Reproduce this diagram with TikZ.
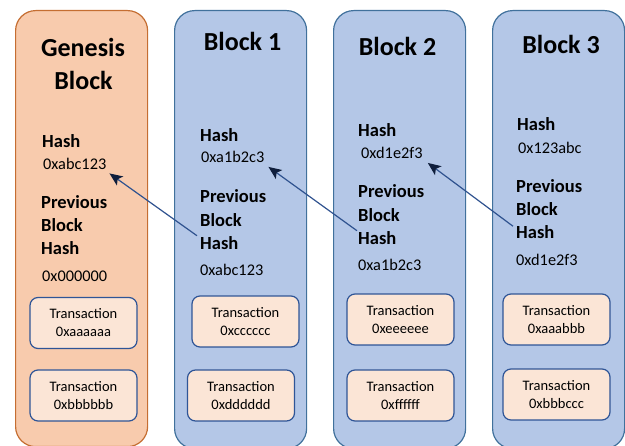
\documentclass[tikz,border=0pt]{standalone}
\usepackage{fontspec}
\setmainfont{Carlito}
\usetikzlibrary{arrows.meta}
\definecolor{orfill}{RGB}{248,203,173}
\definecolor{ordraw}{RGB}{197,110,50}
\definecolor{blfill}{RGB}{180,199,231}
\definecolor{bldraw}{RGB}{65,113,156}
\definecolor{txfill}{RGB}{251,229,214}
\definecolor{txdraw}{RGB}{47,85,151}
\definecolor{arline}{RGB}{47,82,143}
\definecolor{ardark}{RGB}{15,30,60}
\tikzset{
  blockbox/.style={draw=bldraw, fill=blfill, line width=1.2pt, rounded corners=20pt},
  genbox/.style={draw=ordraw, fill=orfill, line width=1.2pt, rounded corners=20pt},
  title/.style={font=\fontsize{26}{30}\selectfont\bfseries, inner sep=0pt},
  lbl/.style={font=\fontsize{18.5}{22}\selectfont\bfseries, anchor=west, inner sep=0pt},
  val/.style={font=\fontsize{16.3}{18}\selectfont, anchor=west, inner sep=0pt},
  txbox/.style={draw=txdraw, fill=txfill, line width=1.2pt, rounded corners=8pt,
    minimum width=107pt, minimum height=51pt, align=center, inner sep=0pt,
    font=\fontsize{14.5}{18}\selectfont},
  link/.style={draw=arline, line width=1.2pt, -{Stealth[length=13pt,width=11pt,inset=3pt,color=ardark]}}
}
\begin{document}
\begin{tikzpicture}[x=1pt,y=-1pt]
\useasboundingbox (0,0) rectangle (625,446);
% block frames
\node[genbox, minimum width=132pt, minimum height=436pt, anchor=north west] (g) at (15,10) {};
\node[blockbox, minimum width=132pt, minimum height=438pt, anchor=north west] (b1) at (174,10) {};
\node[blockbox, minimum width=132pt, minimum height=438pt, anchor=north west] (b2) at (333,10) {};
\node[blockbox, minimum width=132pt, minimum height=438pt, anchor=north west] (b3) at (492,10) {};
% titles
\node[title] (gt1) at (83,47.5) {Genesis};
\node[title] (gt2) at (83.5,80.5) {Block};
\node[title] (b1t) at (242.5,41.5) {Block 1};
\node[title] (b2t) at (397.5,46.5) {Block 2};
\node[title] (b3t) at (561,44) {Block 3};
% genesis contents
\node[lbl] (gh) at (42,141) {Hash};
\node[val] (ghv) at (43,163.5) {0xabc123};
\node[lbl] (gp1) at (41,202) {Previous};
\node[lbl] (gp2) at (41,225) {Block};
\node[lbl] (gp3) at (41,248.5) {Hash};
\node[val] (gpv) at (42,276.5) {0x000000};
% block 1 contents
\node[lbl] (b1h) at (200,135) {Hash};
\node[val] (b1hv) at (201,157) {0xa1b2c3};
\node[lbl] (b1p1) at (200,196.5) {Previous};
\node[lbl] (b1p2) at (200,220) {Block};
\node[lbl] (b1p3) at (200,243.5) {Hash};
\node[val] (b1pv) at (200,270) {0xabc123};
% block 2 contents
\node[lbl] (b2h) at (358,130) {Hash};
\node[val] (b2hv) at (361,153) {0xd1e2f3};
\node[lbl] (b2p1) at (358,191.5) {Previous};
\node[lbl] (b2p2) at (358,215) {Block};
\node[lbl] (b2p3) at (358,238.5) {Hash};
\node[val] (b2pv) at (358,265) {0xa1b2c3};
% block 3 contents
\node[lbl] (b3h) at (517,124) {Hash};
\node[val] (b3hv) at (518,148) {0x123abc};
\node[lbl] (b3p1) at (516,186) {Previous};
\node[lbl] (b3p2) at (516,209) {Block};
\node[lbl] (b3p3) at (516,232) {Hash};
\node[val] (b3pv) at (516,259.5) {0xd1e2f3};
% transactions
\node[txbox] (gt1x) at (83.5,323) {Transaction\\0xaaaaaa};
\node[txbox] (gt2x) at (83.5,395.5) {Transaction\\0xbbbbbb};
\node[txbox] (b1t1x) at (245.5,321.5) {Transaction\\0xcccccc};
\node[txbox] (b1t2x) at (241,395.5) {Transaction\\0xdddddd};
\node[txbox] (b2t1x) at (400.5,319.5) {Transaction\\0xeeeeee};
\node[txbox] (b2t2x) at (400.5,395.5) {Transaction\\0xffffff};
\node[txbox] (b3t1x) at (556.5,319.5) {Transaction\\0xaaabbb};
\node[txbox] (b3t2x) at (556.5,394.5) {Transaction\\0xbbbccc};
% links
\draw[link] ([xshift=-3pt,yshift=1pt]b1p3.north west) -- ([xshift=3pt,yshift=-4pt]ghv.south east);
\draw[link] ([xshift=-1pt,yshift=1pt]b2p3.north west) -- ([xshift=4pt,yshift=-4pt]b1hv.south east);
\draw[link] ([xshift=-3pt,yshift=-1pt]b3p3.north west) -- ([xshift=5pt,yshift=-4pt]b2hv.south east);
\end{tikzpicture}
\end{document}
